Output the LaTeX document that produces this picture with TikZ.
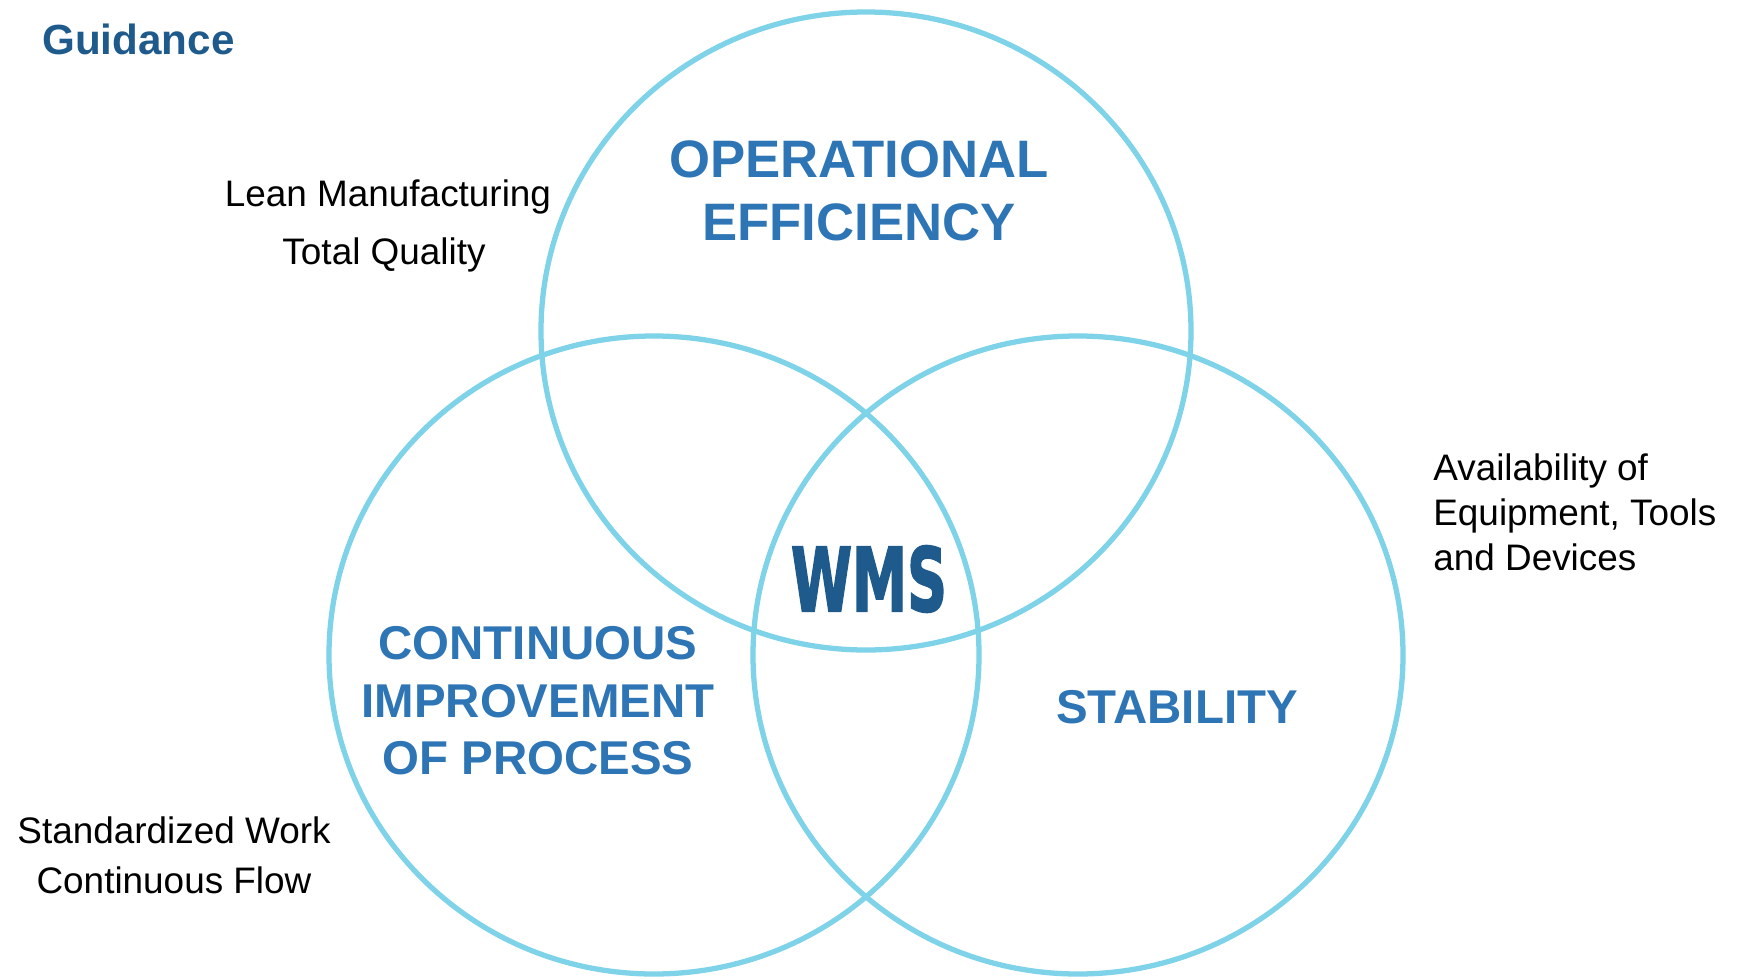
\documentclass[tikz,border=0pt]{standalone}
\usepackage{fontspec}
\usepackage{graphicx}
\setmainfont{Liberation Sans}
\newfontfamily\wmsfont{DejaVu Sans}[BoldFeatures={FakeBold=2.5}]
\definecolor{ringcyan}{RGB}{127,211,232}
\definecolor{headblue}{RGB}{46,117,182}
\definecolor{darkblue}{RGB}{31,90,140}
\usetikzlibrary{positioning}

\begin{document}
\begin{tikzpicture}[x=0.02cm, y=-0.02cm,
    ring/.style={draw=ringcyan, line width=3pt},
    heading/.style={inner sep=0pt, align=center, text=headblue, font=\bfseries\fontsize{27}{32.8}\selectfont},
    note/.style={inner sep=0pt, font=\fontsize{21}{25.6}\selectfont}
]
    \useasboundingbox (0,0) rectangle (1741,980);

    % Circles
    \draw[ring] (866,331) ellipse[x radius=325, y radius=319];
    \draw[ring] (654,655) ellipse[x radius=325, y radius=319];
    \draw[ring] (1078,655) ellipse[x radius=325, y radius=319];

    % Title
    \node[inner sep=0pt, anchor=west, text=darkblue, font=\bfseries\fontsize{24}{28}\selectfont] (title) at (42,39) {Guidance};

    % Circle headings
    \node[heading, font=\bfseries\fontsize{30}{36}\selectfont] (eff) at (859,191) {OPERATIONAL\\EFFICIENCY};
    \node[heading] (cip) at (538,701) {CONTINUOUS\\IMPROVEMENT\\OF PROCESS};
    \node[heading] (stab) at (1177,707) {STABILITY};

    % Centre
    \node[inner sep=0pt, text=darkblue] (wms) at (869,579)
        {\scalebox{0.63}[1]{\wmsfont\bfseries\fontsize{50}{50}\selectfont WMS}};

    % Notes
    \node[note] (lean) at (388,197) {Lean Manufacturing};
    \node[note] (tq) at (384,255) {Total Quality};
    \node[note, anchor=west, align=left] (avail) at (1433,512) {Availability of\\Equipment, Tools\\and Devices};
    \node[note, align=center, font=\fontsize{21}{28.5}\selectfont] (std) at (174,855) {Standardized Work\\Continuous Flow};
\end{tikzpicture}
\end{document}
